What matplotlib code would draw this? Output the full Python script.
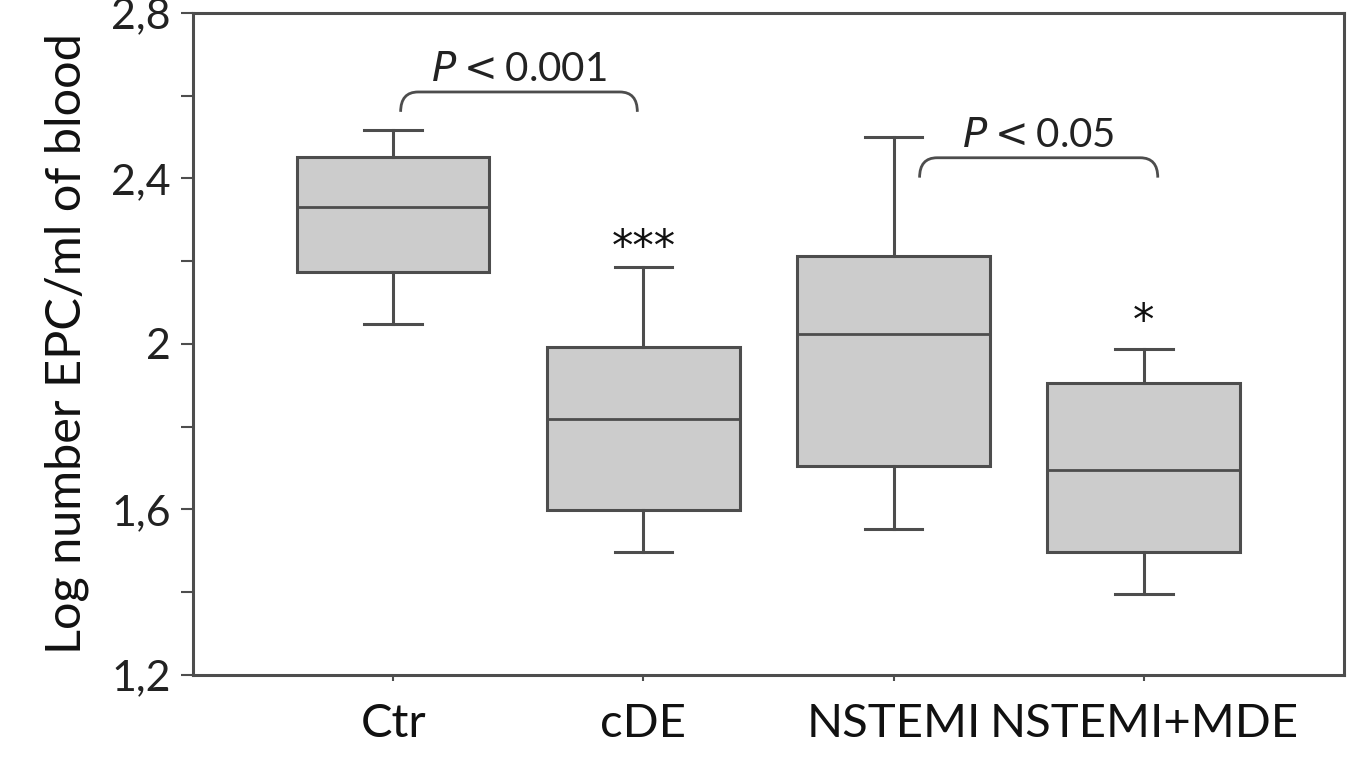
import matplotlib.pyplot as plt
from matplotlib.path import Path
from matplotlib.patches import PathPatch

plt.rcParams['font.family'] = ['Lato', 'DejaVu Sans']

# groups and box statistics
groups = ['Ctr', 'cDE', 'NSTEMI', 'NSTEMI+MDE']
whislo = [2.048, 1.497, 1.554, 1.396]
q1 = [2.174, 1.599, 1.706, 1.497]
med = [2.331, 1.819, 2.025, 1.696]
q3 = [2.452, 1.993, 2.213, 1.906]
whishi = [2.517, 2.186, 2.500, 1.988]

stars = ['', '***', '', '*']
star_y = [None, 2.247, None, 2.07]

# significance brackets: (x start, x end, top y, p value text)
brackets = [(1.03, 1.976, 2.609, '0.001'),
            (3.104, 4.056, 2.450, '0.05')]

edge = '#4d4d4d'
fig = plt.figure(figsize=(13.56, 7.61), dpi=100)
ax = fig.add_axes([0.1423, 0.113, 0.8488, 0.870])

stats = []
for i in range(len(groups)):
    stats.append(dict(label=groups[i], whislo=whislo[i], q1=q1[i], med=med[i],
                      q3=q3[i], whishi=whishi[i], fliers=[]))

pos = list(range(1, len(groups) + 1))
ax.bxp(stats, positions=pos, widths=0.77, patch_artist=True, showfliers=False,
       boxprops=dict(facecolor='#cccccc', edgecolor=edge, linewidth=2.2),
       medianprops=dict(color=edge, linewidth=2.0),
       whiskerprops=dict(color=edge, linewidth=2.2),
       capprops=dict(color=edge, linewidth=2.2), capwidths=0.23)

for i, s in enumerate(stars):
    if s:
        ax.text(pos[i], star_y[i] - 0.045, s, ha='center', va='baseline', fontsize=31,
                family='DejaVu Sans', color='#111111')

for x0, x1, yt, pval in brackets:
    dx, dy = 0.07, 0.048
    verts = [(x0, yt - dy), (x0, yt), (x0 + dx, yt), (x1 - dx, yt), (x1, yt), (x1, yt - dy)]
    codes = [Path.MOVETO, Path.CURVE3, Path.CURVE3, Path.LINETO, Path.CURVE3, Path.CURVE3]
    ax.add_patch(PathPatch(Path(verts, codes), fill=False, edgecolor=edge, linewidth=2.0))
    ax.text((x0 + x1) / 2, yt + 0.055, r'$\it{P}<$' + pval,
            ha='center', va='center', fontsize=29, color='#222222')

ax.set_xlim(0.2, 4.8)
ax.set_ylim(1.2, 2.8)
ax.set_xticks(pos)
ax.set_xticklabels(groups)
ax.set_yticks([1.2, 1.6, 2.0, 2.4, 2.8])
ax.set_yticklabels(['1,2', '1,6', '2', '2,4', '2,8'])
ax.set_yticks([1.4, 1.8, 2.2, 2.6], minor=True)

for sp in ax.spines.values():
    sp.set_color(edge)
    sp.set_linewidth(2.2)

ax.tick_params(axis='y', which='both', length=9, width=1.5, color=edge,
               labelsize=31, labelcolor='#222222', pad=7)
ax.tick_params(axis='x', length=4, width=1.5, color=edge, labelsize=34,
               labelcolor='#111111', pad=16)
ax.set_ylabel('Log number EPC/ml of blood', fontsize=35, color='#111111', labelpad=16)

fig.savefig('out.png', dpi=100)
